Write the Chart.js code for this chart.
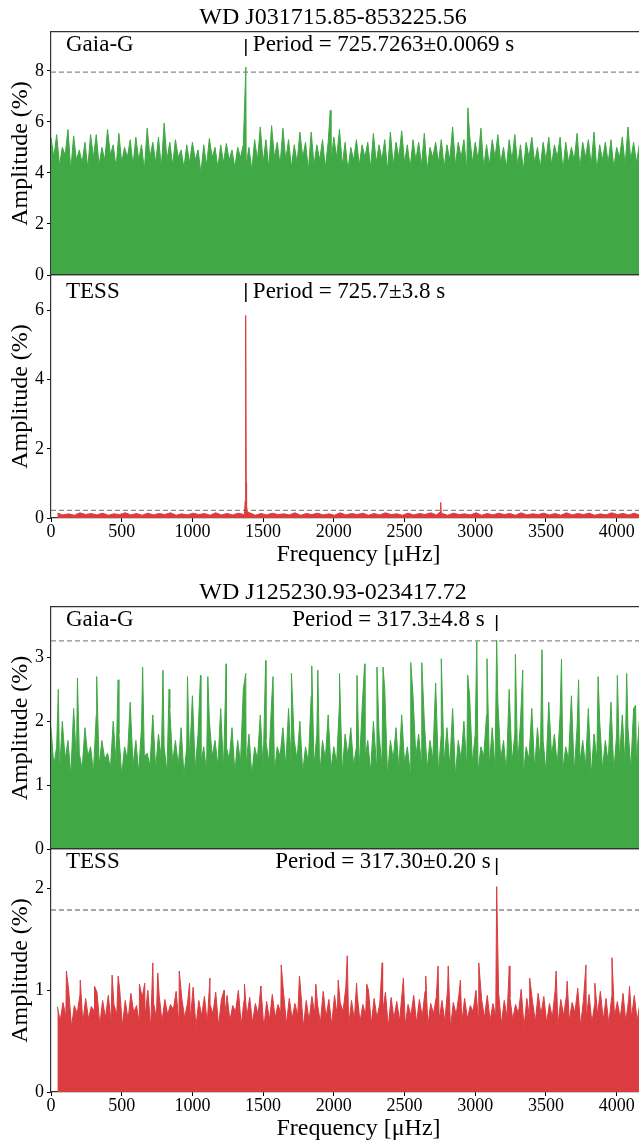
<!DOCTYPE html>
<html>
<head>
<meta charset="utf-8">
<script src="https://cdn.jsdelivr.net/npm/chart.js@4.4.1/dist/chart.umd.min.js"></script>
<style>
  html, body { margin: 0; padding: 0; background: #fff; }
  body { width: 639px; height: 1142px; overflow: hidden; position: relative; }
  canvas { position: absolute; left: 0; }
</style>
</head>
<body>
<canvas id="gaia1" width="666" height="295" style="top:0px"></canvas>
<canvas id="tess1" width="666" height="315" style="top:255px"></canvas>
<canvas id="gaia2" width="666" height="294" style="top:575px"></canvas>
<canvas id="tess2" width="666" height="315" style="top:829px"></canvas>
<script>
// frequency axis (uHz)
const X_MAX = 4349;
const xTicks = [0, 500, 1000, 1500, 2000, 2500, 3000, 3500, 4000];

// --- WD J031715.85-853225.56, Gaia-G (grid 0..4160, step 40) ---
const gaia1Start = 0, gaia1Step = 40;
const gaia1Peaks = [
  5.4, 5.5, 5.0, 5.7, 5.45, 4.9, 5.2, 5.5, 5.5, 5.0,
  5.7, 5.1, 5.55, 5.0, 5.3, 5.4, 5.1, 5.75, 5.2, 5.4,
  5.95, 5.2, 5.3, 4.9, 5.1, 5.2, 4.9, 5.1, 5.35, 5.0,
  5.1, 5.15, 4.9, 5.0, 5.1, 5.0, 5.3, 5.8, 5.3, 5.85,
  5.2, 5.75, 5.3, 5.1, 5.6, 5.2, 5.6, 5.1, 5.3, 5.2,
  5.4, 5.7, 5.2, 5.0, 5.3, 5.1, 5.2, 5.55, 5.1, 5.3,
  5.6, 5.2, 5.65, 5.1, 5.3, 5.2, 5.55, 5.0, 5.2, 5.3,
  5.1, 5.8, 5.2, 5.3, 5.5, 5.2, 5.75, 5.1, 5.3, 5.5,
  5.0, 5.3, 5.5, 5.1, 5.2, 5.4, 5.0, 5.2, 5.4, 5.1,
  5.4, 5.2, 5.0, 5.55, 5.2, 5.3, 5.6, 5.1, 5.2, 5.3,
  5.0, 5.4, 5.8, 5.2, 5.1
];
const gaia1Dips = [
  4.6, 4.3, 4.7, 4.1, 4.5, 4.4, 4.2, 4.6, 4.3, 4.5,
  4.7, 4.2, 4.4, 4.6, 4.3, 4.5, 4.1, 4.6, 4.4, 4.2,
  4.5, 4.3, 4.6, 4.2, 4.4, 4.5, 4.0, 4.3, 4.6, 4.2,
  4.4, 4.5, 4.2, 4.6, 4.3, 4.1, 4.5, 4.4, 4.2, 4.6,
  4.3, 4.5, 4.2, 4.4, 4.6, 4.1, 4.3, 4.5, 4.2, 4.4,
  4.6, 4.3, 4.1, 4.5, 4.3, 4.6, 4.2, 4.4, 4.5, 4.1,
  4.3, 4.6, 4.4, 4.2, 4.5, 4.3, 4.1, 4.6, 4.4, 4.2,
  4.5, 4.3, 4.6, 4.1, 4.4, 4.5, 4.2, 4.3, 4.6, 4.4,
  4.2, 4.5, 4.3, 4.1, 4.6, 4.4, 4.2, 4.5, 4.3, 4.6,
  4.1, 4.4, 4.5, 4.2, 4.6, 4.3, 4.1, 4.5, 4.4, 4.2,
  4.6, 4.3, 4.5, 4.4, 4.3
];
const gaia1Spikes = [[1377.9, 8.15], [1975, 6.45], [2948, 6.55]];
const gaia1Thresh = 7.95;

// --- WD J031715.85-853225.56, TESS (grid 45..4205, step 80) ---
const tess1Start = 45, tess1Step = 80;
const tess1Peaks = [
  0.14, 0.12, 0.15, 0.13, 0.14, 0.12, 0.15, 0.13, 0.14, 0.13,
  0.15, 0.12, 0.14, 0.13, 0.15, 0.13, 0.14, 0.15, 0.13, 0.14,
  0.12, 0.15, 0.13, 0.14, 0.12, 0.15, 0.13, 0.14, 0.13, 0.15,
  0.12, 0.14, 0.13, 0.15, 0.13, 0.14, 0.12, 0.15, 0.13, 0.14,
  0.13, 0.15, 0.12, 0.14, 0.13, 0.15, 0.13, 0.14, 0.12, 0.15,
  0.13, 0.14, 0.13
];
const tess1Dips = [
  0.09, 0.08, 0.1, 0.09, 0.08, 0.1, 0.09, 0.08, 0.09, 0.1,
  0.08, 0.09, 0.1, 0.08, 0.09, 0.09, 0.1, 0.08, 0.09, 0.1,
  0.09, 0.08, 0.1, 0.09, 0.08, 0.09, 0.1, 0.08, 0.09, 0.1,
  0.08, 0.09, 0.1, 0.09, 0.08, 0.1, 0.09, 0.08, 0.09, 0.1,
  0.08, 0.09, 0.1, 0.09, 0.08, 0.09, 0.1, 0.08, 0.09, 0.1,
  0.09, 0.08, 0.09
];
const tess1Spikes = [
  [1369, 0.18], [1373, 0.5], [1375.5, 1.3], [1377.9, 5.85], [1380.5, 1.0],
  [1383, 0.4], [1387, 0.18], [2752, 0.17], [2755.8, 0.45], [2759, 0.17]
];
const tess1Thresh = 0.22;

// --- WD J125230.93-023417.72, Gaia-G (grid 0..4160, step 40) ---
const gaia2Start = 0, gaia2Step = 40;
const gaia2Peaks = [
  1.9, 1.6, 2.0, 1.7, 2.2, 1.5, 1.9, 1.6, 2.1, 1.7,
  1.5, 2.0, 1.8, 1.6, 2.3, 1.7, 1.9, 1.5, 2.1, 1.8,
  1.6, 2.2, 1.7, 1.9, 1.6, 2.4, 1.8, 1.6, 2.0, 1.7,
  2.2, 1.6, 1.9, 1.7, 2.5, 1.8, 1.6, 2.1, 1.7, 2.3,
  1.6, 1.9, 2.2, 1.7, 2.0, 1.6, 2.4, 1.8, 1.7, 2.1,
  1.6, 2.3, 1.8, 1.9, 1.6, 2.2, 1.7, 2.0, 1.8, 2.5,
  1.7, 1.9, 2.1, 1.6, 2.4, 1.8, 2.0, 1.7, 2.6, 1.8,
  1.9, 2.2, 1.7, 2.0, 2.4, 1.8, 1.6, 2.1, 1.9, 2.3,
  1.7, 2.5, 1.8, 2.0, 1.6, 2.2, 1.9, 1.7, 2.3, 1.8,
  2.1, 1.6, 2.4, 1.9, 1.7, 2.2, 1.8, 2.0, 1.7, 2.3,
  1.8, 2.1, 1.9, 2.2, 2.0
];
const gaia2Dips = [
  1.3, 1.2, 1.4, 1.15, 1.35, 1.25, 1.45, 1.2, 1.3, 1.4,
  1.25, 1.35, 1.15, 1.4, 1.3, 1.2, 1.45, 1.3, 1.25, 1.4,
  1.2, 1.35, 1.3, 1.15, 1.4, 1.25, 1.35, 1.2, 1.45, 1.3,
  1.25, 1.4, 1.2, 1.35, 1.3, 1.15, 1.4, 1.25, 1.35, 1.2,
  1.45, 1.3, 1.25, 1.4, 1.2, 1.35, 1.3, 1.15, 1.4, 1.25,
  1.35, 1.2, 1.45, 1.3, 1.25, 1.4, 1.2, 1.35, 1.3, 1.15,
  1.4, 1.25, 1.35, 1.2, 1.45, 1.3, 1.25, 1.4, 1.2, 1.35,
  1.3, 1.15, 1.4, 1.25, 1.35, 1.2, 1.45, 1.3, 1.25, 1.4,
  1.2, 1.35, 1.3, 1.15, 1.4, 1.25, 1.35, 1.2, 1.45, 1.3,
  1.25, 1.4, 1.2, 1.35, 1.3, 1.15, 1.4, 1.25, 1.35, 1.2,
  1.4, 1.3, 1.25, 1.35, 1.3
];
const gaia2Spikes = [
  [52, 2.5], [187, 2.68], [323, 2.7], [475, 2.65], [648, 2.85], [792, 2.8],
  [835, 2.5], [965, 2.7], [1057, 2.72], [1109, 2.7], [1239, 2.9], [1377, 2.75],
  [1518, 2.95], [1570, 2.7], [1700, 2.75], [1844, 2.87], [1887, 2.8], [2040, 2.75],
  [2164, 2.72], [2218, 2.9], [2305, 2.85], [2348, 2.85], [2544, 2.92], [2622, 2.92],
  [2760, 2.98], [2947, 2.72], [3011, 3.25], [3083, 2.98], [3151.6, 3.27], [3284, 3.05],
  [3336, 2.8], [3472, 3.12], [3610, 2.97], [3731, 2.65], [3869, 2.7], [4005, 2.72],
  [4071, 2.75], [4134, 2.25]
];
const gaia2Thresh = 3.26;

// --- WD J125230.93-023417.72, TESS (grid 45..4165, step 40) ---
const tess2Start = 45, tess2Step = 40;
const tess2Peaks = [
  0.84, 0.88, 1.0, 0.85, 0.96, 0.92, 0.84, 0.98, 0.9, 0.95,
  0.86, 1.02, 0.9, 0.97, 0.85, 0.93, 1.0, 0.88, 0.95, 0.91,
  0.86, 0.99, 0.92, 0.87, 1.03, 0.9, 0.94, 0.86, 0.98, 0.91,
  0.95, 0.85, 1.0, 0.9, 0.93, 0.87, 1.02, 0.89, 0.96, 0.86,
  0.97, 0.92, 0.87, 1.01, 0.9, 0.94, 0.86, 0.99, 0.91, 0.95,
  0.88, 1.03, 0.9, 0.96, 0.86, 1.0, 0.92, 0.87, 0.98, 0.93,
  0.89, 1.01, 0.86, 0.95, 0.91, 0.99, 0.87, 0.94, 0.9, 1.02,
  0.88, 0.96, 0.92, 0.85, 1.0, 0.91, 0.95, 0.87, 0.98, 0.9,
  0.93, 0.86, 1.01, 0.92, 0.89, 0.97, 0.94, 0.87, 1.0, 0.91,
  0.95, 0.88, 1.02, 0.9, 0.96, 0.87, 0.99, 0.92, 0.94, 0.89,
  0.97, 0.91, 0.95, 0.88
];
const tess2Dips = [
  0.7, 0.74, 0.64, 0.77, 0.68, 0.72, 0.8, 0.66, 0.73, 0.69,
  0.76, 0.65, 0.71, 0.78, 0.67, 0.74, 0.63, 0.72, 0.69, 0.76,
  0.81, 0.66, 0.73, 0.7, 0.64, 0.75, 0.68, 0.77, 0.65, 0.72,
  0.7, 0.79, 0.66, 0.74, 0.68, 0.76, 0.63, 0.71, 0.73, 0.78,
  0.67, 0.72, 0.75, 0.64, 0.7, 0.77, 0.68, 0.73, 0.66, 0.74,
  0.79, 0.65, 0.71, 0.69, 0.76, 0.67, 0.73, 0.78, 0.64, 0.72,
  0.7, 0.66, 0.75, 0.68, 0.74, 0.65, 0.77, 0.71, 0.69, 0.63,
  0.76, 0.68, 0.72, 0.79, 0.66, 0.73, 0.7, 0.75, 0.67, 0.74,
  0.71, 0.77, 0.64, 0.72, 0.69, 0.76, 0.68, 0.73, 0.66, 0.75,
  0.7, 0.78, 0.65, 0.72, 0.68, 0.76, 0.71, 0.67, 0.74, 0.72,
  0.69, 0.73, 0.7, 0.72
];
const tess2Spikes = [
  [109, 1.19], [207, 1.1], [308, 1.04], [432, 1.15], [475, 1.14], [625, 1.06],
  [663, 1.07], [720, 1.27], [755, 1.17], [907, 1.19], [980, 1.07], [1124, 1.12],
  [1224, 1.0], [1368, 1.06], [1484, 1.04], [1628, 1.25], [1757, 1.14], [1873, 1.06],
  [2031, 1.1], [2095, 1.34], [2161, 1.07], [2233, 1.06], [2342, 1.27], [2492, 1.12],
  [2650, 1.14], [2737, 1.24], [2809, 1.24], [2895, 1.1], [3025, 1.27], [3151.6, 2.02],
  [3241, 1.24], [3385, 1.12], [3572, 1.19], [3650, 1.09], [3783, 1.25], [3846, 1.07],
  [3967, 1.32], [4091, 1.04]
];
const tess2Thresh = 1.79;

const GREEN = 'rgb(64,168,68)';
const RED = 'rgb(218,60,64)';
const SERIF = '"Liberation Serif", "Times New Roman", serif';

Chart.defaults.font.family = SERIF;
Chart.defaults.color = '#000';

function buildSeries(start, step, peaks, dips, spikes) {
  const pts = [];
  peaks.forEach((p, i) => {
    pts.push({x: start + i * step, y: p});
    pts.push({x: start + (i + 0.5) * step, y: dips[i]});
  });
  spikes.forEach(s => pts.push({x: s[0], y: s[1]}));
  pts.sort((a, b) => a.x - b.x);
  return pts;
}

// panel labels + period marker
const panelText = {
  id: 'panelText',
  afterDatasetsDraw(chart, args, opts) {
    const {ctx, chartArea, scales} = chart;
    ctx.save();
    ctx.fillStyle = '#000';
    ctx.font = '23px ' + SERIF;
    ctx.textBaseline = 'middle';
    ctx.textAlign = 'left';
    ctx.fillText(opts.name, chartArea.left + 15, chartArea.top + opts.textY);
    const bx = scales.x.getPixelForValue(opts.markFreq);
    ctx.strokeStyle = '#000';
    ctx.lineWidth = 1.5;
    ctx.beginPath();
    ctx.moveTo(bx, chartArea.top + opts.barTop);
    ctx.lineTo(bx, chartArea.top + opts.barBottom);
    ctx.stroke();
    if (opts.side === 'right') {
      ctx.textAlign = 'left';
      ctx.fillText(opts.period, bx + opts.gap, chartArea.top + opts.textY);
    } else {
      ctx.textAlign = 'right';
      ctx.fillText(opts.period, bx - opts.gap, chartArea.top + opts.textY);
    }
    ctx.restore();
  }
};

function makeScales(yMax, yStep, showX) {
  return {
    x: {
      type: 'linear', min: 0, max: X_MAX,
      afterBuildTicks: s => { s.ticks = xTicks.map(v => ({value: v})); },
      ticks: {
        display: showX, padding: 0, maxRotation: 0, autoSkip: false,
        font: {size: 18, lineHeight: 1.1},
        callback: v => String(v)
      },
      grid: {drawOnChartArea: false, drawTicks: showX, tickLength: 4, tickColor: '#000'},
      border: {display: true, color: '#333', width: 1.2},
      title: {
        display: showX, text: 'Frequency [\u03bcHz]',
        font: {size: 24, lineHeight: 1.2}, padding: {top: 0, bottom: 1}
      },
      afterFit: s => { s.height = showX ? 52 : 0; }
    },
    xTop: {
      type: 'linear', position: 'top', min: 0, max: X_MAX,
      ticks: {display: false},
      grid: {drawOnChartArea: false, drawTicks: false},
      border: {display: true, color: '#333', width: 1.2},
      afterFit: s => { s.height = 0; }
    },
    y: {
      min: 0, max: yMax,
      ticks: {stepSize: yStep, includeBounds: false, padding: 3, font: {size: 18}, callback: v => String(v)},
      grid: {drawOnChartArea: false, tickLength: 4, tickColor: '#000'},
      border: {display: true, color: '#333', width: 1.2},
      title: {display: true, text: 'Amplitude (%)', font: {size: 24, lineHeight: 1.2}, padding: {top: 6, bottom: 0}},
      afterFit: s => { s.width = 51; }
    }
  };
}

function makePanel(id, cfg) {
  const series = buildSeries(cfg.start, cfg.step, cfg.peaks, cfg.dips, cfg.spikes);
  new Chart(document.getElementById(id), {
    type: 'line',
    data: {
      datasets: [
        {
          data: series, borderColor: cfg.color, backgroundColor: cfg.color,
          borderWidth: 1, fill: 'origin', pointRadius: 0, tension: 0
        },
        {
          data: [{x: 0, y: cfg.thresh}, {x: X_MAX, y: cfg.thresh}],
          borderColor: '#8a8a8a', borderWidth: 1.3, borderDash: [5, 3],
          fill: false, pointRadius: 0
        }
      ]
    },
    options: {
      responsive: false,
      animation: false,
      devicePixelRatio: 1,
      layout: {padding: cfg.padding},
      scales: makeScales(cfg.yMax, cfg.yStep, cfg.showX),
      plugins: {
        legend: {display: false},
        tooltip: {enabled: false},
        title: {
          display: !!cfg.title, text: cfg.title || '',
          font: {size: 24, weight: 'normal', lineHeight: 1.2},
          padding: {top: 3, bottom: 0.2}
        },
        panelText: cfg.label
      }
    },
    plugins: [panelText]
  });
}

makePanel('gaia1', {
  start: gaia1Start, step: gaia1Step, peaks: gaia1Peaks, dips: gaia1Dips, spikes: gaia1Spikes,
  thresh: gaia1Thresh, color: GREEN, yMax: 9.52, yStep: 2, showX: false,
  title: 'WD J031715.85-853225.56', padding: {top: 0, bottom: 20, left: 0, right: 0},
  label: {name: 'Gaia-G', period: 'Period = 725.7263\u00b10.0069 s', markFreq: 1377.9,
          side: 'right', gap: 7, textY: 12.5, barTop: 7, barBottom: 24}
});
makePanel('tess1', {
  start: tess1Start, step: tess1Step, peaks: tess1Peaks, dips: tess1Dips, spikes: tess1Spikes,
  thresh: tess1Thresh, color: RED, yMax: 7.02, yStep: 2, showX: true,
  padding: {top: 20, bottom: 0, left: 0, right: 0},
  label: {name: 'TESS', period: 'Period = 725.7\u00b13.8 s', markFreq: 1377.9,
          side: 'right', gap: 7, textY: 17, barTop: 8, barBottom: 27}
});
makePanel('gaia2', {
  start: gaia2Start, step: gaia2Step, peaks: gaia2Peaks, dips: gaia2Dips, spikes: gaia2Spikes,
  thresh: gaia2Thresh, color: GREEN, yMax: 3.79, yStep: 1, showX: false,
  title: 'WD J125230.93-023417.72', padding: {top: 0, bottom: 20, left: 0, right: 0},
  label: {name: 'Gaia-G', period: 'Period = 317.3\u00b14.8 s', markFreq: 3151.6,
          side: 'left', gap: 12, textY: 12.5, barTop: 8, barBottom: 24}
});
makePanel('tess2', {
  start: tess2Start, step: tess2Step, peaks: tess2Peaks, dips: tess2Dips, spikes: tess2Spikes,
  thresh: tess2Thresh, color: RED, yMax: 2.39, yStep: 1, showX: true,
  padding: {top: 20, bottom: 0, left: 0, right: 0},
  label: {name: 'TESS', period: 'Period = 317.30\u00b10.20 s', markFreq: 3151.6,
          side: 'left', gap: 6, textY: 13, barTop: 9, barBottom: 26}
});
</script>
</body>
</html>
